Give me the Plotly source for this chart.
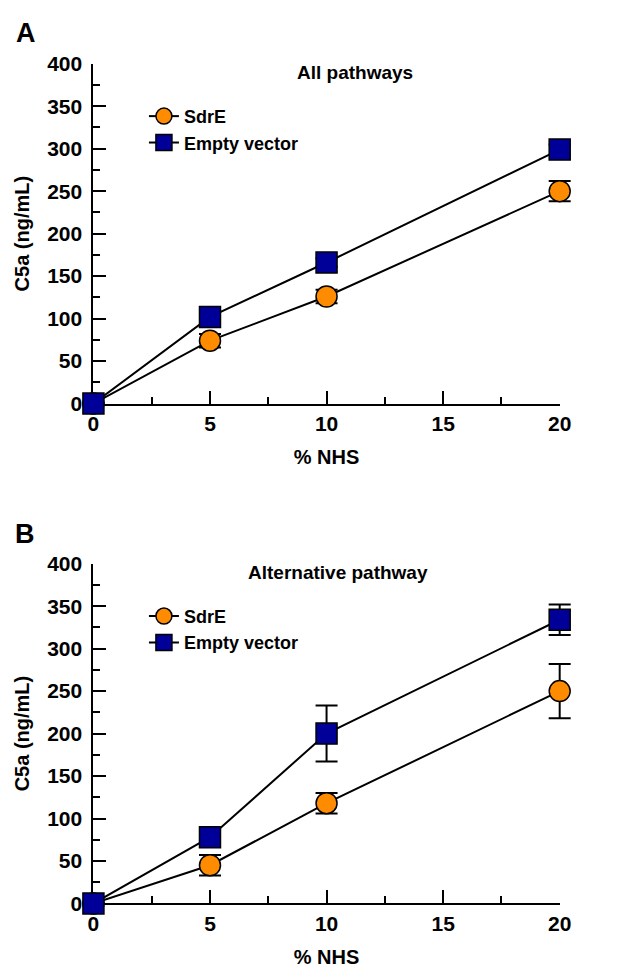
import plotly.graph_objects as go

# ---- data ----
nhs = [0, 5, 10, 20]

a_sdre = [0, 74, 126, 250]
a_sdre_err = [0, 8, 8, 12]
a_ev = [0, 102, 166, 299]
a_ev_err = [0, 4, 5, 6]

b_sdre = [0, 45, 118, 250]
b_sdre_err = [0, 12, 12, 32]
b_ev = [0, 78, 200, 334]
b_ev_err = [0, 5, 33, 18]

panel_titles = ["All pathways", "Alternative pathway"]
panel_letters = ["A", "B"]
series_names = ["SdrE", "Empty vector"]
x_ticks = [0, 5, 10, 15, 20]
y_ticks = [0, 50, 100, 150, 200, 250, 300, 350, 400]

ORANGE = "#FF8C00"
BLUE = "#000099"
FONT = "Arial, Liberation Sans, Helvetica, sans-serif"

W, H = 629, 975
X0, X1 = 90, 570                      # pixel extent of the visible x axis (0..20)
PAD = 0.5                             # data units of extra room for error-bar caps
px_per_unit = (X1 - X0) / 20
x_dom = [X0 / W, X1 / W]
x_dom_wide = [(X0 - PAD * px_per_unit) / W, (X1 + PAD * px_per_unit) / W]
y_dom_top = [1 - 401 / H, 1 - 53 / H]
y_dom_bot = [1 - 913 / H, 1 - 565 / H]

fig = go.Figure()

# empty traces so the visible axis frames get drawn
for xa, ya in (("x", "y"), ("x2", "y2")):
    fig.add_trace(go.Scatter(x=[], y=[], xaxis=xa, yaxis=ya, showlegend=False,
                             hoverinfo="skip"))


def add_series(x, y, err, name, color, symbol, xa, ya, legend):
    fig.add_trace(go.Scatter(
        x=x, y=y, name=name, mode="lines+markers",
        xaxis=xa, yaxis=ya, legend=legend,
        line=dict(color="black", width=2),
        marker=dict(symbol=symbol, size=21, color=color,
                    line=dict(color="black", width=1.5)),
        error_y=dict(type="data", array=err, visible=True,
                     color="black", thickness=2, width=11),
        cliponaxis=False,
    ))


add_series(nhs, a_sdre, a_sdre_err, series_names[0], ORANGE, "circle", "x3", "y3", "legend")
add_series(nhs, a_ev, a_ev_err, series_names[1], BLUE, "square", "x3", "y3", "legend")
add_series(nhs, b_sdre, b_sdre_err, series_names[0], ORANGE, "circle", "x4", "y4", "legend2")
add_series(nhs, b_ev, b_ev_err, series_names[1], BLUE, "square", "x4", "y4", "legend2")

tickfont = dict(family=FONT, size=21, color="black", weight="bold")
titlefont = dict(family=FONT, size=20, color="black", weight="bold")

xcommon = dict(
    range=[0, 20], tickvals=x_ticks, showline=True, linecolor="black", linewidth=2,
    ticks="inside", ticklen=13, tickwidth=2, tickcolor="black",
    minor=dict(dtick=2.5, ticks="inside", ticklen=7, tickwidth=2, tickcolor="black"),
    showgrid=False, zeroline=False, tickfont=tickfont, domain=x_dom,
    title=dict(text="% NHS", font=titlefont, standoff=16), fixedrange=True,
)
ycommon = dict(
    range=[0, 400], tickvals=y_ticks, showline=True, linecolor="black", linewidth=2,
    ticks="inside", ticklen=13, tickwidth=2, tickcolor="black",
    minor=dict(dtick=25, ticks="inside", ticklen=7, tickwidth=2, tickcolor="black"),
    showgrid=False, zeroline=False, tickfont=tickfont, ticklabelstandoff=5,
    title=dict(text="C5a (ng/mL)", font=titlefont, standoff=12), fixedrange=True,
)
# invisible data axes, same scale, slightly wider so caps at x=20 are not clipped
xdata = dict(range=[-PAD, 20 + PAD], domain=x_dom_wide, visible=False,
             showgrid=False, zeroline=False, fixedrange=True)
ydata = dict(range=[0, 400], visible=False, showgrid=False, zeroline=False,
             fixedrange=True)

legend_common = dict(
    font=dict(family=FONT, size=18, color="black", weight="bold"),
    bgcolor="rgba(0,0,0,0)", borderwidth=0, xanchor="left", yanchor="top",
    tracegroupgap=0, itemclick=False, itemdoubleclick=False,
)

fig.update_layout(
    width=W, height=H, margin=dict(l=0, r=0, t=0, b=0),
    paper_bgcolor="white", plot_bgcolor="rgba(0,0,0,0)", showlegend=True,
    xaxis=dict(**xcommon, anchor="y"),
    yaxis=dict(**ycommon, domain=y_dom_top, anchor="x"),
    xaxis2=dict(**xcommon, anchor="y2"),
    yaxis2=dict(**ycommon, domain=y_dom_bot, anchor="x2"),
    xaxis3=dict(**xdata, anchor="y3"),
    yaxis3=dict(**ydata, domain=y_dom_top, anchor="x3"),
    xaxis4=dict(**xdata, anchor="y4"),
    yaxis4=dict(**ydata, domain=y_dom_bot, anchor="x4"),
    legend=dict(**legend_common, x=142 / W, y=1 - 88 / H),
    legend2=dict(**legend_common, x=142 / W, y=1 - 600 / H),
)

letter_font = dict(family=FONT, size=27, color="black", weight="bold")
title_font = dict(family=FONT, size=19, color="black", weight="bold")
ann = dict(xref="paper", yref="paper", showarrow=False, xanchor="center", yanchor="middle")
fig.add_annotation(text=panel_letters[0], x=21 / W, y=1 - 22 / H, font=letter_font, **ann)
fig.add_annotation(text=panel_letters[1], x=20 / W, y=1 - 535 / H, font=letter_font, **ann)
fig.add_annotation(text=panel_titles[0], x=359 / W, y=1 - 62 / H, font=title_font, **ann)
fig.add_annotation(text=panel_titles[1], x=342 / W, y=1 - 574 / H, font=title_font, **ann)

fig.write_html("out.html", config={"displayModeBar": False},
               post_script="document.body.style.margin='0';")
